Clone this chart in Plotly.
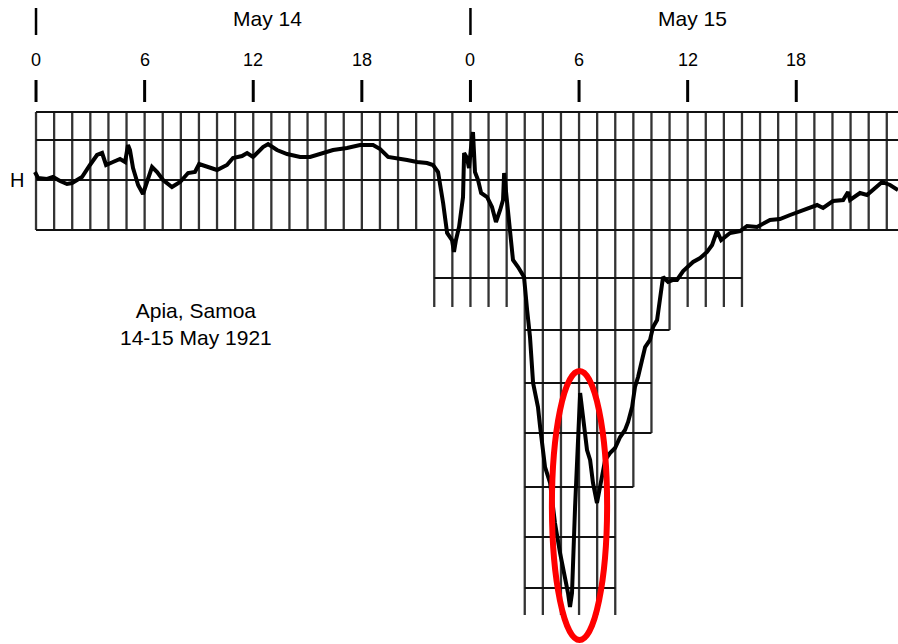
import plotly.graph_objects as go

# ---- H-component trace (hours since 00h May 14, deflection in chart units; up = +) ----
hours = [
    -0.06, 0.11, 0.61, 0.94, 1.33, 1.71, 1.99, 2.54, 2.98, 3.37,
    3.65, 3.87, 4.25, 4.64, 4.92, 5.08, 5.19, 5.36, 5.64, 5.91,
    6.13, 6.41, 6.69, 7.02, 7.51, 7.96, 8.40, 8.78, 9.01, 9.45,
    10.0, 10.55, 10.88, 11.38, 11.66, 11.99, 12.54, 12.82, 13.31, 13.87,
    14.59, 15.14, 15.86, 16.41, 17.18, 17.90, 18.62, 19.01, 19.45, 19.94,
    20.50, 21.05, 21.60, 21.93, 22.21, 22.49, 22.71, 22.98, 23.09, 23.20,
    23.37, 23.59, 23.65, 23.81, 23.92, 24.09, 24.14, 24.25, 24.42, 24.59,
    24.92, 25.19, 25.41, 25.64, 25.80, 25.86, 26.02, 26.19, 26.35, 26.63,
    26.96, 27.13, 27.29, 27.46, 27.73, 27.85, 28.12, 28.40, 28.67, 28.95,
    29.23, 29.39, 29.50, 29.61, 29.78, 29.89, 30.00, 30.06, 30.22, 30.44,
    30.61, 30.77, 30.99, 31.16, 31.33, 31.44, 31.71, 31.99, 32.27, 32.54,
    32.71, 32.93, 33.09, 33.26, 33.48, 33.65, 33.92, 34.09, 34.31, 34.48,
    34.64, 34.92, 35.19, 35.41, 35.75, 36.30, 36.69, 37.07, 37.35, 37.62,
    37.85, 38.34, 38.90, 39.28, 39.83, 40.55, 41.10, 41.66, 42.38, 43.15,
    43.48, 44.03, 44.59, 44.86, 44.97, 45.52, 45.91, 46.74, 47.18, 47.62,
]
h_defl = [
    8, 2, 1, 3, -1, -4, -3, 3, 15, 25,
    27, 15, 18, 21, 18, 35, 30, 12, -5, -14,
    -2, 13, 8, 0, -7, -2, 7, 8, 16, 13,
    10, 15, 22, 24, 27, 23, 33, 36, 30, 26,
    23, 23, 27, 30, 32, 35, 35, 31, 23, 22,
    20, 18, 17, 15, 8, -23, -53, -60, -72, -60,
    -47, -17, 27, 22, 12, 43, 48, 8, 0, -13,
    -17, -27, -42, -30, -20, 7, -20, -47, -80, -87,
    -97, -130, -157, -203, -227, -247, -287, -303, -343, -373,
    -397, -413, -427, -413, -327, -277, -237, -213, -237, -270,
    -280, -303, -323, -307, -293, -280, -273, -268, -257, -250,
    -242, -227, -207, -197, -180, -167, -160, -147, -140, -120,
    -97, -102, -100, -100, -91, -82, -78, -72, -65, -51,
    -60, -53, -51, -46, -47, -40, -39, -35, -30, -25,
    -28, -21, -20, -12, -20, -13, -15, -2, -5, -10,
]

# ---- chart-paper grid ----
band_top = 68
# (first hour, last hour, lower end of the hour lines)
vline_groups = [
    (0, 21, -50), (22, 26, -127), (27, 32, -435), (33, 33, -307),
    (34, 34, -253), (35, 35, -150), (36, 39, -127), (40, 47, -50),
]
# (level, from hour, to hour)
hline_rows = [
    (68, 0, 48), (40, 0, 48), (0, 0, 48), (-50, 0, 48),
    (-98, 22, 39), (-150, 27, 35), (-203, 27, 34), (-253, 27, 34),
    (-307, 27, 33), (-357, 27, 32), (-408, 27, 32),
]

tick_hours = [0, 6, 12, 18, 24, 30, 36, 42, 48]
tick_labels = ["0", "6", "12", "18", "0", "6", "12", "18", "0"]
day_starts = [0, 24]
day_labels = ["May 14", "May 15"]
day_label_hours = [12.8, 36.25]

station_text = "Apia, Samoa<br>14-15 May 1921"
highlight = dict(h0=28.5, h1=31.55, d0=-191, d1=-460)

X_RANGE = [-1.99, 47.62]
Y_RANGE = [-464, 180]

fig = go.Figure()

# vertical grid lines
vx, vy = [], []
for h_a, h_b, bottom in vline_groups:
    for h in range(h_a, h_b + 1):
        vx += [h, h, None]
        vy += [band_top, bottom, None]
fig.add_trace(go.Scatter(x=vx, y=vy, mode="lines",
                         line=dict(color="#333333", width=2.3),
                         hoverinfo="skip", showlegend=False))
# horizontal grid lines
hx, hy = [], []
for lev, h_a, h_b in hline_rows:
    hx += [h_a, h_b, None]
    hy += [lev, lev, None]
fig.add_trace(go.Scatter(x=hx, y=hy, mode="lines",
                         line=dict(color="#111111", width=2),
                         hoverinfo="skip", showlegend=False))

# magnetogram trace
fig.add_trace(go.Scatter(x=hours, y=h_defl, mode="lines",
                         line=dict(color="black", width=4),
                         hoverinfo="skip", showlegend=False))

# hour ticks and day separators
tx, ty = [], []
for h in tick_hours[:-1]:
    tx += [h, h, None]
    ty += [100, 78, None]
fig.add_trace(go.Scatter(x=tx, y=ty, mode="lines",
                         line=dict(color="black", width=3),
                         hoverinfo="skip", showlegend=False, cliponaxis=False))
dx, dy = [], []
for h in day_starts:
    dx += [h, h, None]
    dy += [172, 145, None]
fig.add_trace(go.Scatter(x=dx, y=dy, mode="lines",
                         line=dict(color="black", width=2.5),
                         hoverinfo="skip", showlegend=False, cliponaxis=False))

FONT = "Liberation Sans, Arial, sans-serif"
ann = []
for h, lab in zip(tick_hours, tick_labels):
    ann.append(dict(x=h, y=120, text=lab, showarrow=False, xref="x", yref="y",
                    font=dict(family=FONT, size=18, color="black")))
for h, lab in zip(day_label_hours, day_labels):
    ann.append(dict(x=h, y=162, text=lab, showarrow=False, xref="x", yref="y",
                    font=dict(family=FONT, size=21, color="black")))
ann.append(dict(x=-1.05, y=0, text="H", showarrow=False, xref="x", yref="y",
                font=dict(family=FONT, size=20, color="black")))
ann.append(dict(x=8.84, y=-144, text=station_text, showarrow=False, xref="x", yref="y",
                align="center", font=dict(family=FONT, size=21, color="black")))

fig.add_shape(type="circle", xref="x", yref="y",
              x0=highlight["h0"], x1=highlight["h1"],
              y0=highlight["d0"], y1=highlight["d1"],
              line=dict(color="#ff0000", width=6), layer="above")

fig.update_layout(
    width=898, height=644,
    margin=dict(l=0, r=0, t=0, b=0),
    paper_bgcolor="white", plot_bgcolor="white",
    xaxis=dict(range=X_RANGE, visible=False, fixedrange=True),
    yaxis=dict(range=Y_RANGE, visible=False, fixedrange=True),
    annotations=ann,
    showlegend=False,
)

fig.write_html(
    "out.html",
    config={"displayModeBar": False},
    post_script="document.body.style.margin='0';document.body.style.overflow='hidden';",
)
